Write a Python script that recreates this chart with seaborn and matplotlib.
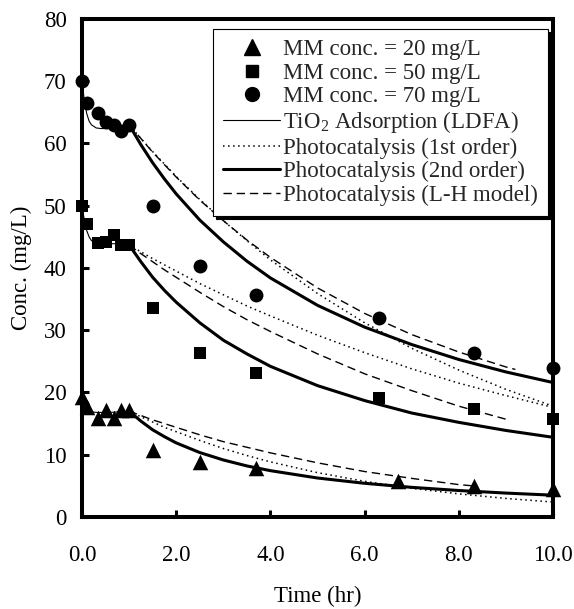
import matplotlib
matplotlib.use("Agg")
import matplotlib.pyplot as plt
from matplotlib.lines import Line2D
import seaborn as sns
import pandas as pd

# Measured concentrations (mg/L) of MM over time (hr)
t_early = [0, 0.1, 0.33, 0.5, 0.67, 0.83, 1.0, 1.5, 2.5, 3.7]
t20 = t_early + [6.7, 8.33, 10.0]
t50 = t_early + [6.3, 8.33, 10.0]
t70 = t_early + [6.3, 8.33, 10.0]
c20 = [19.3, 17.7, 15.9, 17.2, 15.9, 17.2, 17.2, 10.8, 8.9, 7.9, 5.7, 5.0, 4.5]
c50 = [50.0, 47.0, 44.0, 44.2, 45.3, 43.7, 43.7, 33.6, 26.3, 23.1, 19.1, 17.3, 15.7]
c70 = [70.0, 66.5, 64.9, 63.5, 63.0, 62.0, 63.0, 50.0, 40.3, 35.7, 32.0, 26.4, 24.0]

# TiO2 adsorption (LDFA) fits, dark period 0-1 hr
t_ads = [0, 0.05, 0.1, 0.15, 0.2, 0.3, 0.4, 0.6, 0.8, 1.0]
ads20 = [19.4, 18.0, 17.3, 17.0, 16.9, 16.8, 16.8, 16.8, 16.9, 17.0]
ads50 = [50.0, 47.6, 46.0, 45.0, 44.4, 44.0, 43.9, 43.9, 43.9, 43.9]
ads70 = [70.0, 66.8, 64.8, 63.6, 63.0, 62.5, 62.4, 62.4, 62.6, 63.0]

# Photocatalysis fits, 1-10 hr
t_pc = [1, 1.25, 1.5, 1.75, 2, 2.5, 3, 3.5, 4, 5, 6, 7, 8, 9, 10]
first20 = [17.0, 16.1, 15.25, 14.4, 13.7, 12.3, 11.0, 9.87, 8.85, 7.12, 5.73, 4.61, 3.71, 2.98, 2.40]
first50 = [43.7, 42.6, 41.5, 40.5, 39.5, 37.5, 35.7, 33.9, 32.3, 29.2, 26.4, 23.8, 21.5, 19.5, 17.6]
first70 = [63.0, 60.8, 58.7, 56.7, 54.7, 51.0, 47.6, 44.4, 41.3, 35.9, 31.2, 27.1, 23.6, 20.5, 17.8]
second20 = [17.0, 15.4, 14.0, 12.9, 11.9, 10.35, 9.16, 8.2, 7.44, 6.26, 5.41, 4.76, 4.25, 3.84, 3.50]
second50 = [43.7, 41.0, 38.5, 36.4, 34.5, 31.2, 28.4, 26.2, 24.2, 21.1, 18.7, 16.7, 15.2, 13.9, 12.8]
second70 = [63.0, 59.8, 56.9, 54.3, 51.9, 47.7, 44.2, 41.1, 38.4, 34.0, 30.5, 27.7, 25.3, 23.3, 21.6]

t_lh20 = [1, 1.25, 1.5, 1.75, 2, 2.5, 3, 3.5, 4, 5, 6, 7, 8, 8.3]
lh20 = [17.0, 16.3, 15.6, 15.0, 14.4, 13.2, 12.1, 11.2, 10.3, 8.7, 7.3, 6.2, 5.2, 5.0]
t_lh50 = [1, 1.25, 1.5, 1.75, 2, 2.5, 3, 3.5, 4, 5, 6, 7, 8, 9.05]
lh50 = [43.7, 42.3, 41.0, 39.7, 38.5, 36.1, 33.8, 31.7, 29.8, 26.2, 23.0, 20.3, 17.8, 15.6]
t_lh70 = [1, 1.25, 1.5, 1.75, 2, 2.5, 3, 3.5, 4, 5, 6, 7, 8, 9, 9.2]
lh70 = [63.0, 60.8, 58.6, 56.6, 54.6, 50.9, 47.6, 44.5, 41.7, 36.8, 32.7, 29.3, 26.5, 24.1, 23.7]

x_ticks = [0, 2, 4, 6, 8, 10]
y_ticks = [0, 10, 20, 30, 40, 50, 60, 70, 80]

legend_labels = [
    "MM conc. = 20 mg/L",
    "MM conc. = 50 mg/L",
    "MM conc. = 70 mg/L",
    r"TiO$_2$ Adsorption (LDFA)",
    "Photocatalysis (1st order)",
    "Photocatalysis (2nd order)",
    "Photocatalysis (L-H model)",
]

sns.set_theme(style="white")
plt.rcParams["font.family"] = ["Liberation Serif", "DejaVu Serif"]
plt.rcParams["mathtext.fontset"] = "custom"
plt.rcParams["mathtext.rm"] = "Liberation Serif"
plt.rcParams["mathtext.it"] = "Liberation Serif:italic"
plt.rcParams["mathtext.bf"] = "Liberation Serif:bold"

FS = 16.5
fig = plt.figure(figsize=(5.74, 6.09), dpi=100)
ax = fig.add_axes([0.1429, 0.1511, 0.8206, 0.8177])

thin = dict(color="black", lw=0.8, linestyle="-")
dotted = dict(color="black", lw=1.1, linestyle=(0, (1.0, 2.3)))
thick = dict(color="black", lw=2.2, linestyle="-")
dashed = dict(color="black", lw=1.0, linestyle=(0, (6.0, 3.5)))

for y in (ads20, ads50, ads70):
    sns.lineplot(x=t_ads, y=y, ax=ax, **thin)
for y in (first20, first50, first70):
    sns.lineplot(x=t_pc, y=y, ax=ax, **dotted)
for y in (second20, second50, second70):
    sns.lineplot(x=t_pc, y=y, ax=ax, **thick)
for tx, y in ((t_lh20, lh20), (t_lh50, lh50), (t_lh70, lh70)):
    sns.lineplot(x=tx, y=y, ax=ax, **dashed)

points = pd.concat([
    pd.DataFrame({"t": t20, "c": c20, "m": "^"}),
    pd.DataFrame({"t": t50, "c": c50, "m": "s"}),
    pd.DataFrame({"t": t70, "c": c70, "m": "o"}),
])
sizes = {"^": 125, "s": 85, "o": 100}
for m, grp in points.groupby("m"):
    sns.scatterplot(data=grp, x="t", y="c", marker=m, s=sizes[m], color="black",
                    edgecolor="black", linewidth=0, ax=ax, clip_on=False, zorder=5)

ax.set_xlim(0, 10)
ax.set_ylim(0, 80)
ax.set_xticks(x_ticks)
ax.set_xticklabels([f"{v:.1f}" for v in x_ticks])
ax.set_yticks(y_ticks)
ax.set_yticklabels([str(v) for v in y_ticks])
ax.tick_params(axis="both", direction="in", length=5, width=2.2, color="black",
               labelsize=FS, labelcolor="black")
ax.tick_params(axis="x", pad=20)
ax.tick_params(axis="y", pad=11)
ax.tick_params(top=False, right=False, bottom=True, left=True)
for sp in ax.spines.values():
    sp.set_color("black")
    sp.set_linewidth(2.9)

ax.set_xlabel("Time (hr)", fontsize=FS, color="black")
ax.set_ylabel("Conc. (mg/L)", fontsize=FS, color="black")
ax.xaxis.set_label_coords(0.5, -0.139)
ax.yaxis.set_label_coords(-0.107, 0.5)

handles = [
    Line2D([], [], color="black", marker="^", markersize=11, linestyle="none"),
    Line2D([], [], color="black", marker="s", markersize=9.2, linestyle="none"),
    Line2D([], [], color="black", marker="o", markersize=10, linestyle="none"),
    Line2D([], [], **thin),
    Line2D([], [], **dotted),
    Line2D([], [], **thick),
    Line2D([], [], **dashed),
]
leg = ax.legend(handles, legend_labels, loc="upper right", bbox_to_anchor=(0.989, 0.980),
                borderaxespad=0, fontsize=FS, frameon=True, fancybox=False,
                shadow={"color": "black", "alpha": 1.0}, handlelength=2.5,
                handletextpad=0.1, borderpad=0.45, labelspacing=0.1, numpoints=1)
leg.get_frame().set_edgecolor("black")
leg.get_frame().set_linewidth(0.8)
leg.get_frame().set_alpha(1.0)

fig.savefig("out.png", dpi=100, facecolor="white")
